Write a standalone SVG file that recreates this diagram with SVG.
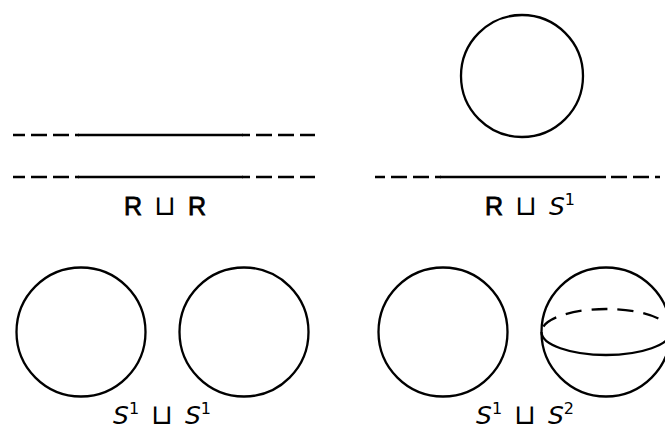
<svg xmlns="http://www.w3.org/2000/svg" width="665" height="430" viewBox="0 0 665 430">
  <style>
    .ln { fill: none; stroke: #000; stroke-width: 2.3; }
    .dash { stroke-dasharray: 16 6; }
    .lbl { font-family: "DejaVu Sans", "Liberation Sans", sans-serif; font-size: 25px; fill: #000; word-spacing: 4px; }
    .bf { font-family: "Liberation Sans", "DejaVu Sans", sans-serif; font-size: 25px; stroke: #000; stroke-width: 0.8; }
    .cup { font-size: 28px; }
    .it { font-style: italic; }
    .sup { font-size: 16px; }
  </style>
  <rect width="665" height="430" fill="#fff"/>

  <!-- R ⊔ R : two real lines -->
  <g id="lines-RR">
    <line class="ln dash" x1="13" y1="135" x2="79" y2="135" stroke-dashoffset="4"/>
    <line class="ln" x1="78" y1="135" x2="243" y2="135"/>
    <line class="ln dash" x1="242" y1="135" x2="315" y2="135" stroke-dashoffset="8"/>
    <line class="ln dash" x1="13" y1="177" x2="79" y2="177" stroke-dashoffset="4"/>
    <line class="ln" x1="78" y1="177" x2="243" y2="177"/>
    <line class="ln dash" x1="242" y1="177" x2="315" y2="177" stroke-dashoffset="8"/>
    <text class="lbl" x="165" y="215" text-anchor="middle"><tspan class="bf">R</tspan> <tspan class="cup">⊔</tspan> <tspan class="bf">R</tspan></text>
  </g>

  <!-- R ⊔ S^1 : a circle above a line -->
  <g id="line-circle">
    <circle class="ln" cx="522" cy="76" r="61"/>
    <line class="ln dash" x1="375" y1="177" x2="441" y2="177" stroke-dashoffset="6"/>
    <line class="ln" x1="440" y1="177" x2="606" y2="177"/>
    <line class="ln dash" x1="605" y1="177" x2="660" y2="177" stroke-dashoffset="16"/>
    <text class="lbl" x="530" y="215" text-anchor="middle"><tspan class="bf">R</tspan> <tspan class="cup">⊔</tspan> <tspan class="it">S</tspan><tspan class="sup" dy="-10">1</tspan></text>
  </g>

  <!-- S^1 ⊔ S^1 : two circles -->
  <g id="two-circles">
    <circle class="ln" cx="81" cy="332" r="64.5"/>
    <circle class="ln" cx="244" cy="332" r="64.5"/>
    <text class="lbl" x="162" y="424" text-anchor="middle"><tspan class="it">S</tspan><tspan class="sup" dy="-10">1</tspan><tspan dy="10"> </tspan><tspan class="cup">⊔</tspan> <tspan class="it">S</tspan><tspan class="sup" dy="-10">1</tspan></text>
  </g>

  <!-- S^1 ⊔ S^2 : circle and sphere -->
  <g id="circle-sphere">
    <circle class="ln" cx="443" cy="332" r="64.5"/>
    <circle class="ln" cx="606" cy="332" r="64.5"/>
    <path class="ln" d="M541.5,332 A64.5,23 0 0 0 670.5,332"/>
    <path class="ln" d="M541.5,332 A64.5,23 0 0 1 670.5,332" stroke-dasharray="16 10" stroke-dashoffset="-6"/>
    <text class="lbl" x="525" y="424" text-anchor="middle"><tspan class="it">S</tspan><tspan class="sup" dy="-10">1</tspan><tspan dy="10"> </tspan><tspan class="cup">⊔</tspan> <tspan class="it">S</tspan><tspan class="sup" dy="-10">2</tspan></text>
  </g>
</svg>
